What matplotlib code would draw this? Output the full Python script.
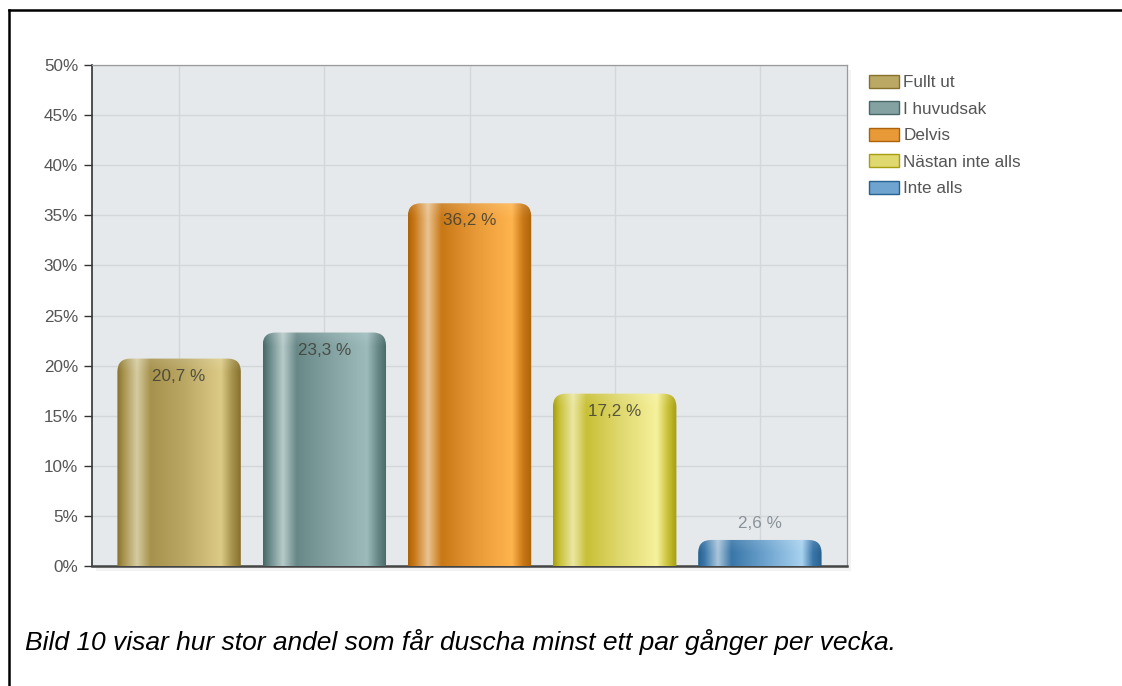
import numpy as np
import matplotlib
matplotlib.use("Agg")
import matplotlib.pyplot as plt
from matplotlib.patches import FancyBboxPatch, Patch, Rectangle
from matplotlib.lines import Line2D
from matplotlib.colors import to_rgb

# ---- data ----
categories = ["Fullt ut", "I huvudsak", "Delvis", "Nästan inte alls", "Inte alls"]
values = [20.7, 23.3, 36.2, 17.2, 2.6]
value_labels = ["20,7 %", "23,3 %", "36,2 %", "17,2 %", "2,6 %"]
yticks = [0, 5, 10, 15, 20, 25, 30, 35, 40, 45, 50]
ytick_labels = [f"{t}%" for t in yticks]
caption = "Bild 10 visar hur stor andel som får duscha minst ett par gånger per vecka."

# ---- styles (dark edge, highlight, shadow, mid, light) ----
styles = [
    dict(dark="#86712c", hi="#d6cca2", sh="#a6924c", mid="#bba865", light="#dccb86"),
    dict(dark="#486868", hi="#b8caca", sh="#688888", mid="#84a2a2", light="#9dbbbb"),
    dict(dark="#ad620a", hi="#eac392", sh="#c97816", mid="#e99a38", light="#ffb44e"),
    dict(dark="#a69e10", hi="#ebe7a4", sh="#c8c036", mid="#e0d970", light="#f6f19c"),
    dict(dark="#28618f", hi="#aac6dc", sh="#3976a8", mid="#6ea4cf", light="#a8d2ef"),
]

plt.rcParams["font.family"] = ["Liberation Sans", "DejaVu Sans"]

W, H = 1122, 686
fig = plt.figure(figsize=(W / 100, H / 100), dpi=100)
fig.patch.set_facecolor("white")

L, R, B, T = 92, 847, 566, 65

# subtle shadow behind the plot area
shadow = Rectangle(((L + 4) / W, 1 - (B + 5) / H), (R - L) / W, (B - T) / H,
                   transform=fig.transFigure, facecolor="#f3f3f3",
                   edgecolor="none", zorder=-5)
fig.add_artist(shadow)

ax = fig.add_axes([L / W, 1 - B / H, (R - L) / W, (B - T) / H])
ax.set_zorder(1)

ax.set_facecolor("#e6e9ec")
x = np.arange(len(categories))
bw = 0.85
bars = ax.bar(x, values, width=bw, color="none", edgecolor="none", zorder=2)

ax.set_xlim(-0.6, len(categories) - 0.4)
ax.set_ylim(0, 50)

px_per_x = (R - L) / (ax.get_xlim()[1] - ax.get_xlim()[0])
px_per_y = (B - T) / 50.0
rad_px = 13
r_x = rad_px / px_per_x
r_y = rad_px / px_per_y

stops = [0.0, 0.05, 0.16, 0.27, 0.55, 0.84, 0.93, 1.0]
for rect, st in zip(bars, styles):
    x0, w, h = rect.get_x(), rect.get_width(), rect.get_height()
    cols = [st["dark"], st["sh"], st["hi"], st["sh"], st["mid"], st["light"], st["sh"], st["dark"]]
    cols = np.array([to_rgb(c) for c in cols])
    t = np.linspace(0, 1, 256)
    grad = np.stack([np.interp(t, stops, cols[:, k]) for k in range(3)], axis=-1)
    nrow = 128
    img = np.repeat(grad[None, :, :], nrow, axis=0)
    # slight lighter band at the top (row 0 = bottom with origin lower)
    vt = np.linspace(0, 1, nrow)[:, None, None]
    band_h = min(1.0, 1.3 / max(h, 0.1))
    lift = np.clip((vt - (1 - band_h)) / band_h, 0, 1) * 0.12
    img = img + (1 - img) * lift
    patch = FancyBboxPatch((x0, -3), w, h + 3,
                           boxstyle=f"round,pad=0,rounding_size={r_x}",
                           mutation_aspect=r_y / r_x,
                           facecolor="none", edgecolor="none", transform=ax.transData)
    ax.add_patch(patch)
    im = ax.imshow(img, extent=[x0, x0 + w, 0, h], aspect="auto", origin="lower",
                   zorder=3, interpolation="bilinear")
    im.set_clip_path(patch)

for xi, v, lab in zip(x, values, value_labels):
    if v > 5:
        ax.text(xi, v - 1.75, lab, ha="center", va="center", fontsize=12.3,
                color="#3e3e36", alpha=0.85, zorder=5)
    else:
        ax.text(xi, v + 1.6, lab, ha="center", va="center", fontsize=12.3,
                color="#8a9299", zorder=5)

ax.set_aspect("auto")
ax.set_xlim(-0.6, len(categories) - 0.4)
ax.set_ylim(0, 50)

ax.set_xticks(x)
ax.set_xticklabels([])
ax.tick_params(axis="x", length=0)
ax.set_yticks(yticks)
ax.set_yticklabels(ytick_labels)
ax.tick_params(axis="y", length=6, width=1, color="#333333", pad=4,
               labelsize=12.3, labelcolor="#555555")
ax.grid(True, color="#d4d7da", linewidth=1, zorder=1)
ax.set_axisbelow(True)

ax.spines["left"].set_color("#333333")
ax.spines["left"].set_linewidth(1.2)
ax.spines["bottom"].set_color("#444444")
ax.spines["bottom"].set_linewidth(1.8)
ax.spines["top"].set_color("#9a9a9a")
ax.spines["right"].set_color("#9a9a9a")
ax.spines["top"].set_linewidth(0.9)
ax.spines["right"].set_linewidth(0.9)

handles = [Patch(facecolor=st["mid"], edgecolor=st["dark"], linewidth=1.0) for st in styles]
leg = fig.legend(handles, categories, loc="upper left",
                 bbox_to_anchor=(869 / W, 1 - 75 / H), frameon=False,
                 fontsize=12.3, handlelength=1.75, handleheight=0.8,
                 handletextpad=0.25, labelspacing=0.64, borderpad=0, borderaxespad=0)
for txt in leg.get_texts():
    txt.set_color("#555555")

# page border (left and top)
fig.add_artist(Line2D([8.5 / W, 8.5 / W], [0, 1 - 9.5 / H], transform=fig.transFigure,
                      color="black", linewidth=1.8))
fig.add_artist(Line2D([8.5 / W, 1], [1 - 9.5 / H, 1 - 9.5 / H], transform=fig.transFigure,
                      color="black", linewidth=1.8))

fig.text(25 / W, 1 - 650 / H, caption, fontsize=19, style="italic",
         color="black", ha="left", va="baseline")

fig.savefig("out.png", dpi=100)
